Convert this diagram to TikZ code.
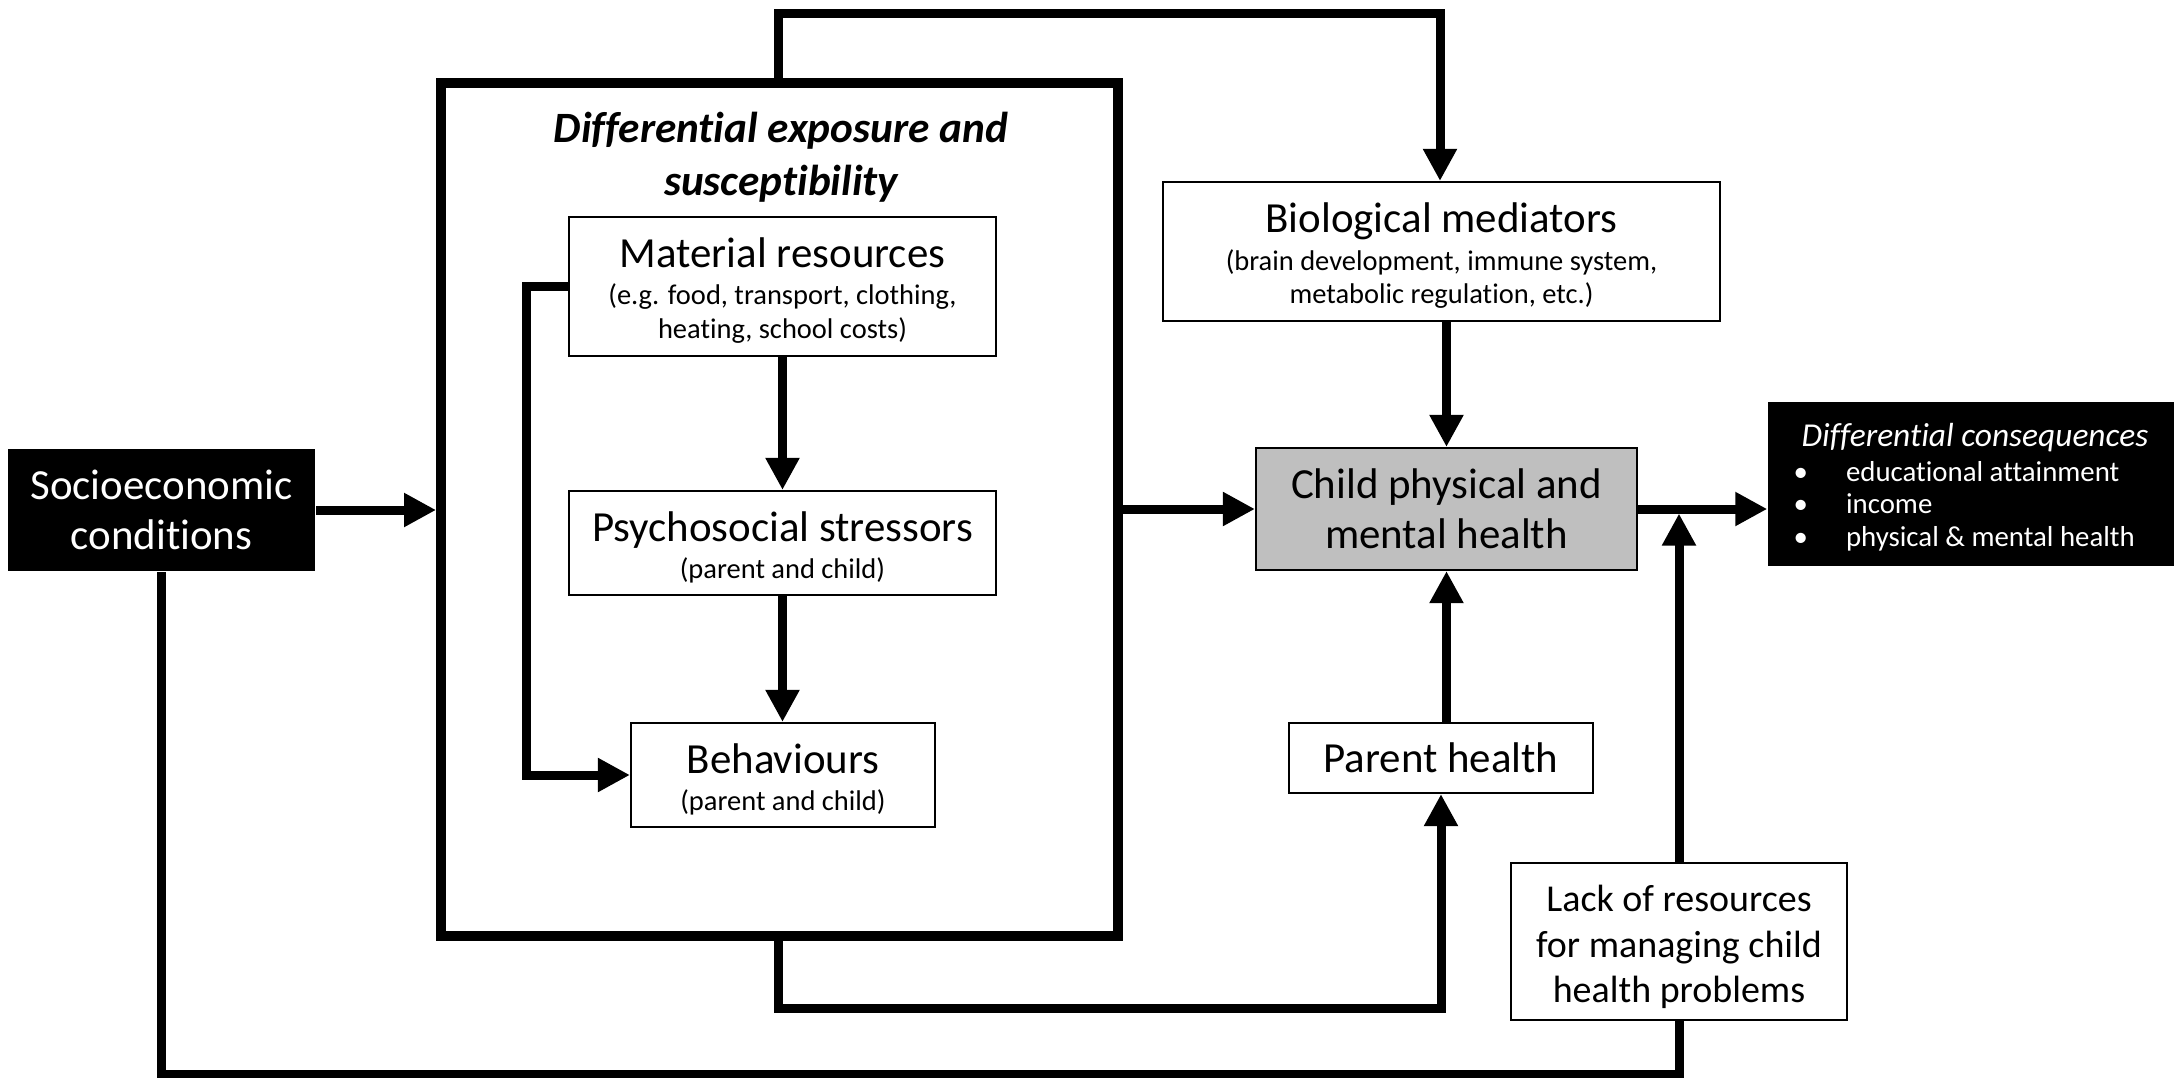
\documentclass[tikz,border=0pt]{standalone}
\usepackage{fontspec}
\setmainfont{Carlito}[Ligatures=NoCommon]
\usetikzlibrary{arrows.meta}
\newcommand\mainsz{\fontsize{12.2}{14.2}\selectfont}
\newcommand\subsz{\fontsize{8.1}{9.6}\selectfont}
\newcommand\titlesz{\fontsize{12.3}{15.2}\selectfont}
\newcommand\conssz{\fontsize{8.2}{9.35}\selectfont}
\newcommand\padtop[2]{\raisebox{0pt}[\dimexpr\height+#1\relax][\depth]{#2}}
\begin{document}
\begin{tikzpicture}[x=0.01cm,y=-0.01cm,
  box/.style={draw=black, line width=0.6pt, fill=white, inner sep=0pt, align=center, font=\mainsz},
  dim/.style 2 args={minimum width=#1*0.01cm, minimum height=#2*0.01cm},
  conn/.style={line width=2.56pt},
  arr/.style={conn, -{Triangle[length=9.1pt,width=9.1pt]}},
]
\useasboundingbox (0,0) rectangle (2174,1078);
\fill[white] (0,0) rectangle (2174,1078);

% outer frame
\node[draw=black, line width=2.8pt, inner sep=0pt, dim={677}{853}] (outer) at (779.5,509.5) {};
\node[font=\titlesz\bfseries\itshape, align=center, inner sep=0pt] (title) at (781,157) {Differential exposure and\\susceptibility};

% boxes
\node[box, fill=black, text=white, draw=none, dim={307}{122}] (socio) at (161.5,510) {Socioeconomic\\conditions};
\node[box, dim={427}{139}] (mat) at (782.5,286.5) {\padtop{2.3pt}{Material resources}\\[-3.6pt]{\subsz (e.g. food, transport, clothing,}\\[-4.7pt]{\subsz heating, school costs)}};
\node[box, dim={427}{104}] (psy) at (782.5,543) {\padtop{2.3pt}{Psychosocial stressors}\\[-3.6pt]{\subsz (parent and child)}};
\node[box, dim={304}{104}] (beh) at (783,775) {\padtop{2.3pt}{Behaviours}\\[-3.6pt]{\subsz (parent and child)}};
\node[box, dim={557}{139}] (bio) at (1441.5,251.5) {\padtop{2.3pt}{Biological mediators}\\[-3.4pt]{\subsz (brain development, immune system,}\\[-4.7pt]{\subsz metabolic regulation, etc.)}};
\node[box, fill=black!25, dim={381}{122}] (child) at (1446.5,509) {Child physical and\\mental health};
\node[box, dim={304}{70}] (parent) at (1441,758) {Parent health};
\node[box, dim={336}{157}, font=\fontsize{10.8}{13}\selectfont] (lack) at (1679,941.5) {\padtop{3.1pt}{Lack of resources}\\for managing child\\health problems};
\node[fill=black, text=white, inner sep=0pt, dim={406}{164}, font=\conssz, align=left] (cons) at (1971,484)
  {\raisebox{-1.7pt}[\height][\depth]{\begin{tabular}{@{}l@{\hspace{0.38cm}}l@{}}
   \multicolumn{2}{@{}l@{}}{\hspace{0.08cm}\fontsize{9.5}{11}\selectfont\itshape Differential consequences\hspace{0.13cm}}\\[0.5pt]
   \textbullet & educational attainment\\
   \textbullet & income\\
   \textbullet & physical \& mental health
   \end{tabular}}};

% connectors
\draw[arr] (socio.east) -- (socio.east -| outer.west);
\draw[arr] (outer.east |- child.west) -- (child.west);
\draw[arr] (child.east) -- (child.east -| cons.west);
\coordinate (lacktip) at ([yshift=-0.045cm]lack.north |- child.east);
\draw[arr] (lack.north) -- (lacktip);
\draw[arr] (mat.south) -- (psy.north);
\draw[arr] (psy.south) -- (beh.north -| psy.south);
\draw[arr] (mat.west) -- ++(-41,0) |- (beh.west);
\coordinate (topleft) at ([xshift=-0.015cm]outer.north);
\coordinate (bioin) at ([xshift=-0.015cm]bio.north);
\draw[arr] (topleft) -- ++(0,-65) -| (bioin);
\draw[arr] (child.north |- bio.south) -- (child.north);
\draw[arr] (child.south |- parent.north) -- (child.south);
\coordinate (botleft) at ([xshift=-0.015cm]outer.south);
\draw[arr] (botleft) -- ++(0,68) -| (parent.south);
\draw[conn] (socio.south) -- ++(0,502) -| (lack.south);
\end{tikzpicture}
\end{document}
